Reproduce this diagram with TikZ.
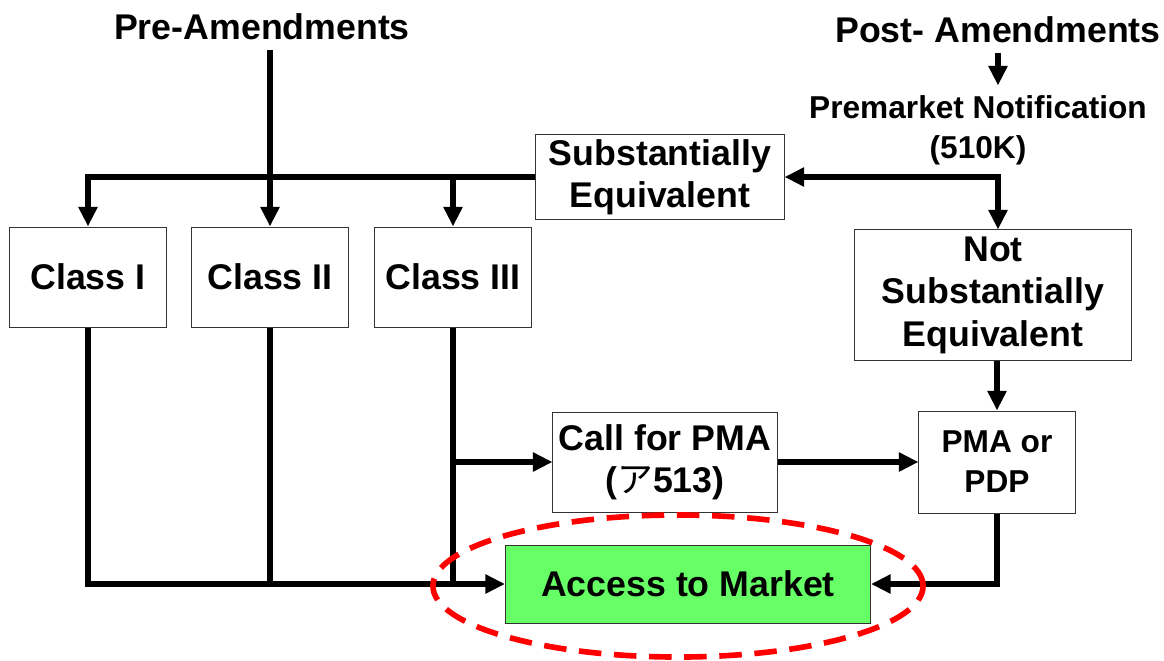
\documentclass[tikz,border=0pt]{standalone}
\usepackage{fontspec}
\setmainfont{Liberation Sans}
\newfontfamily\jpfont{Noto Sans CJK JP}
\usetikzlibrary{arrows.meta,shapes.geometric}
\definecolor{mktgreen}{RGB}{102,255,102}

\tikzset{
    box/.style={
        draw=black!80,
        line width=.7pt,
        fill=white,
        align=center,
        inner sep=0pt,
        font=\fontsize{25.4}{30.2}\selectfont\bfseries
    },
    cls/.style={
        box,
        minimum width=3.92cm,
        minimum height=2.5cm
    },
    lbl/.style={
        align=center,
        inner sep=5pt,
        font=\fontsize{25.4}{30}\selectfont\bfseries
    },
    ring/.style={
        draw=red,
        ellipse,
        dash pattern=on 16pt off 9pt,
        line width=4pt,
        minimum width=12.25cm,
        minimum height=3.55cm
    }
}

\begin{document}
\begin{tikzpicture}[>={Triangle[length=14pt,width=13pt]}, x=0.025cm, y=-0.025cm, line width=3.8pt]
\useasboundingbox (0,0) rectangle (1164,660);
		\path
			node[lbl] at (262,27) (pre) {Pre-Amendments}
			node[lbl] at (998,30) (post) {Post- Amendments}
			node[lbl,font=\fontsize{22.5}{28.5}\selectfont\bfseries] at (978,130) (pmn) {Premarket Notification\\(510K)}
			;
		\path 	(88,277)
			node[cls](cls1){Class I}
			++(182,0) node[cls](cls2){Class II}
			++(183,0) node[cls](cls3){Class III};
		\path
			node[box,minimum width=6.2cm,minimum height=2.125cm] at (660,177) (se) {Substantially\\Equivalent}
			node[box,minimum width=6.9cm,minimum height=3.25cm] at (993,295) (nse) {Not\\Substantially\\Equivalent}
			node[box,minimum width=5.6cm,minimum height=2.5cm] at (665,462) (call) {Call for PMA\\({\jpfont\mdseries ア}513)}
			node[box,minimum width=3.9cm,minimum height=2.55cm,font=\fontsize{22.5}{28.5}\selectfont\bfseries] at (997,462) (pma) {PMA or\\PDP}
			node[box,fill=mktgreen,minimum width=9.125cm,minimum height=1.95cm] at (688,584) (mkt) {Access to Market}
			;
		\coordinate (split) at (998,177);

		\draw[->] (pre.south -| cls2.north) -- (cls2.north);
		\draw[->] (se.west) -| (cls1.north);
		\draw[->] (se.west -| cls3.north) -- (cls3.north);

		\draw[->] (post.south -| split) -- (pmn.north -| split);
		\draw (pmn.south -| split) -- (split);
		\draw[->] (split) -- (se.east);
		\draw[->] (split) -- (split |- nse.north);
		\draw[->] (nse.south -| pma.north) -- (pma.north);

		\path [->]
			(call) edge (pma)
			;
		\draw[->] (cls3.south |- call.west) -- (call.west);

		\draw[->] (cls1.south) |- (mkt.west);
		\draw (cls2.south) -- (cls2.south |- mkt.west);
		\draw (cls3.south) -- (cls3.south |- mkt.west);
		\draw[->] (pma.south) |- (mkt.east);

		\node[ring] at (678,586) (ring) {};
\end{tikzpicture}
\end{document}
